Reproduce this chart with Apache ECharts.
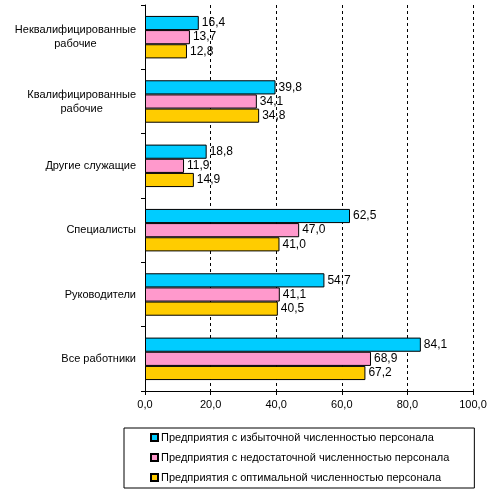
<!DOCTYPE html>
<html><head><meta charset="utf-8">
<script src="https://cdn.jsdelivr.net/npm/echarts@6/dist/echarts.min.js"></script>
<style>html,body{margin:0;padding:0;background:#fff}#c{width:501px;height:492px}</style>
</head><body><div id="c"></div>
<script>
const categories = ["Неквалифицированные\nрабочие", "Квалифицированные\nрабочие", "Другие служащие", "Специалисты", "Руководители", "Все работники"];
const seriesNames = ["Предприятия с избыточной численностью персонала", "Предприятия с недостаточной численностью персонала", "Предприятия с оптимальной численностью персонала"];
const surplus = [16.4, 39.8, 18.8, 62.5, 54.7, 84.1];
const shortage = [13.7, 34.1, 11.9, 47.0, 41.1, 68.9];
const optimal = [12.8, 34.8, 14.9, 41.0, 40.5, 67.2];
const colors = ["#00CCFF", "#FF99CC", "#FFCC00"];
const fmt = v => v.toFixed(1).replace('.', ',');
const font = 'Arial, "Liberation Sans", sans-serif';
const chart = echarts.init(document.getElementById('c'));
const data = [surplus, shortage, optimal];
chart.setOption({
  animation: false,
  textStyle: {fontFamily: font},
  grid: {left: 145, right: 28, top: 5, bottom: 101, containLabel: false},
  xAxis: {
    type: 'value', min: 0, max: 100, interval: 20,
    axisLine: {show: true, lineStyle: {color: '#000'}},
    axisTick: {show: true, length: 4, lineStyle: {color: '#000'}},
    axisLabel: {formatter: fmt, color: '#000', fontSize: 11, fontFamily: font, margin: 8},
    splitLine: {show: true, lineStyle: {color: '#000', type: [3, 3], width: 1}}
  },
  yAxis: {
    type: 'category', data: categories, inverse: true,
    axisLine: {show: true, lineStyle: {color: '#000'}},
    axisTick: {show: true, length: 4, lineStyle: {color: '#000'}},
    axisLabel: {color: '#000', fontSize: 11, fontFamily: font, margin: 9,
      formatter: v => v.split('\n').map(s => '{c|' + s + '}').join('\n'),
      rich: {c: {align: 'center', fontSize: 11, fontFamily: font, color: '#000', lineHeight: 14}}},
    splitLine: {show: false}
  },
  legend: {
    orient: 'vertical', left: 124, top: 428,
    padding: [4, 25, 5, 26], itemGap: 9,
    itemWidth: 7, itemHeight: 7,
    borderColor: '#000', borderWidth: 1,
    textStyle: {fontSize: 11, color: '#000', fontFamily: font, padding: [0, 0, 0, -2]},
    icon: 'rect'
  },
  series: seriesNames.map((n, i) => ({
    name: n, type: 'bar', data: data[i],
    barGap: '0%', barCategoryGap: '34%',
    itemStyle: {color: colors[i], borderColor: '#000', borderWidth: 1},
    label: {show: true, position: 'right', distance: 3, formatter: p => fmt(p.value), color: '#000', fontSize: 12, fontFamily: font}
  }))
});
</script></body></html>
